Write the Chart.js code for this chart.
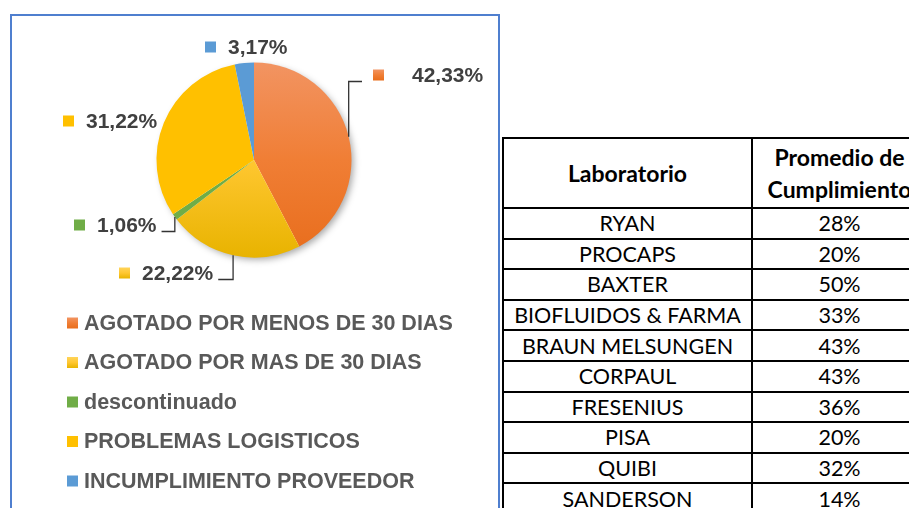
<!DOCTYPE html>
<html>
<head>
<meta charset="utf-8">
<script src="https://cdn.jsdelivr.net/npm/chart.js@4/dist/chart.umd.min.js"></script>
<style>
html,body{margin:0;padding:0;width:909px;height:508px;overflow:hidden;background:#fff}
#box{position:absolute;left:10px;top:14px;width:486px;height:520px;border:2px solid #4f7fcf}
#pie{position:absolute;left:12px;top:16px}
#tbl{position:absolute;left:502px;top:137px;width:424px;table-layout:fixed;border-collapse:collapse;font-family:Lato,"Open Sans",sans-serif;font-size:21.5px;color:#000}
#tbl td,#tbl th{border:2px solid #000;text-align:center;padding:0;height:28.6px;line-height:26px;white-space:nowrap;overflow:hidden}
#tbl th{height:68px;line-height:32px;font-weight:bold;font-size:23px}
</style>
</head>
<body>
<div id="box"></div>
<canvas id="pie" width="485" height="492"></canvas>
<table id="tbl"><colgroup><col style="width:249px"><col style="width:175px"></colgroup><thead><tr><th>Laboratorio</th><th>Promedio de<br>Cumplimiento</th></tr></thead><tbody id="rows"></tbody></table>
<script>
// pie data
const categories = ['AGOTADO POR MENOS DE 30 DIAS','AGOTADO POR MAS DE 30 DIAS','descontinuado','PROBLEMAS LOGISTICOS','INCUMPLIMIENTO PROVEEDOR'];
const shares = [42.33, 22.22, 1.06, 31.22, 3.17];

// table data
const labs = ['RYAN','PROCAPS','BAXTER','BIOFLUIDOS & FARMA','BRAUN MELSUNGEN','CORPAUL','FRESENIUS','PISA','QUIBI','SANDERSON'];
const compliance = [28, 20, 50, 33, 43, 43, 36, 20, 32, 14];

const rows = document.getElementById('rows');
labs.forEach((l,i)=>{
  const tr = document.createElement('tr');
  tr.innerHTML = '<td>'+l.replace('&','&amp;')+'</td><td>'+compliance[i]+'%</td>';
  rows.appendChild(tr);
});

// colours: gradient stops top -> bottom
const colorStops = [
  ['#f29462','#f07e35','#e86d1c'],
  ['#ffd45a','#ffc731','#e8b300'],
  ['#70ad47','#70ad47','#70ad47'],
  ['#ffc000','#ffc000','#ffc000'],
  ['#5b9bd5','#5b9bd5','#5b9bd5']
];

// label placement relative to pie centre (key square left edge, vertical centre)
const labelPlace = [
  {dx:119, dy:-85, gap:28, leader:'right'},
  {dx:-135, dy:113, gap:12, leader:'left'},
  {dx:-180, dy:65, gap:12, leader:'left'},
  {dx:-191, dy:-39, gap:12},
  {dx:-49, dy:-113, gap:12}
];

const labelFont = 'bold 21px "Liberation Sans", Arial, sans-serif';
const legendFont = 'bold 21.5px "Liberation Sans", Arial, sans-serif';

function grad(ctx, i, y0, y1){
  const g = ctx.createLinearGradient(0, y0, 0, y1);
  g.addColorStop(0, colorStops[i][0]);
  g.addColorStop(0.5, colorStops[i][1]);
  g.addColorStop(1, colorStops[i][2]);
  return g;
}

function sliceFill(c){
  const a = c.chart.chartArea;
  if(!a) return colorStops[c.dataIndex][1];
  return grad(c.chart.ctx, c.dataIndex, a.top, a.bottom);
}

const shadow = {
  id:'shadow',
  beforeDatasetsDraw(chart){
    const arc = chart.getDatasetMeta(0).data[0];
    if(!arc) return;
    const ctx = chart.ctx;
    ctx.save();
    ctx.shadowColor = 'rgba(0,0,0,0.35)';
    ctx.shadowBlur = 7;
    ctx.shadowOffsetX = 3;
    ctx.shadowOffsetY = 3;
    ctx.fillStyle = '#fff';
    ctx.beginPath();
    ctx.arc(arc.x, arc.y, arc.outerRadius-1, 0, Math.PI*2);
    ctx.fill();
    ctx.restore();
  }
};

const labels = {
  id:'labels',
  afterDatasetsDraw(chart){
    const ctx = chart.ctx;
    const meta = chart.getDatasetMeta(0);
    ctx.save();
    ctx.font = labelFont;
    ctx.textBaseline = 'middle';
    meta.data.forEach((arc,i)=>{
      const p = arc.getProps(['x','y','startAngle','endAngle','outerRadius'], true);
      const mid = (p.startAngle+p.endAngle)/2;
      const ex = p.x + Math.cos(mid)*p.outerRadius;
      const ey = p.y + Math.sin(mid)*p.outerRadius;
      const pl = labelPlace[i];
      const kx = p.x + pl.dx, ky = p.y + pl.dy;
      const txt = shares[i].toFixed(2).replace('.',',') + '%';
      ctx.fillStyle = grad(ctx, i, ky-5.5, ky+5.5);
      ctx.fillRect(kx, ky-5.5, 11, 11);
      const tx = kx + 11 + pl.gap;
      ctx.fillStyle = '#404040';
      ctx.fillText(txt, tx, ky+1);
      if(pl.leader){
        const ly = ky + 6.5;
        const lx = pl.leader==='right' ? kx - 11 : tx + ctx.measureText(txt).width + 5;
        ctx.strokeStyle = '#333';
        ctx.lineWidth = 1.3;
        ctx.beginPath();
        ctx.moveTo(ex, ey);
        ctx.lineTo(ex, ly);
        ctx.lineTo(lx, ly);
        ctx.stroke();
      }
    });
    ctx.restore();
  }
};

const legendBox = {
  id:'legendBox',
  afterDraw(chart){
    const ctx = chart.ctx;
    ctx.save();
    ctx.font = legendFont;
    ctx.textBaseline = 'middle';
    categories.forEach((c,i)=>{
      const y = 307 + i*39.5;
      ctx.fillStyle = grad(ctx, i, y-5.5, y+5.5);
      ctx.fillRect(55, y-5.5, 11, 11);
      ctx.fillStyle = '#595959';
      ctx.fillText(c, 72, y+1);
    });
    ctx.restore();
  }
};

new Chart(document.getElementById('pie'), {
  type:'pie',
  data:{
    labels:categories,
    datasets:[{
      data:shares,
      backgroundColor:sliceFill,
      borderWidth:0
    }]
  },
  options:{
    responsive:false,
    animation:false,
    layout:{padding:{left:144.5, right:145.5, top:46.5, bottom:250.5}},
    plugins:{legend:{display:false}, tooltip:{enabled:false}}
  },
  plugins:[shadow, labels, legendBox]
});
</script>
</body>
</html>
